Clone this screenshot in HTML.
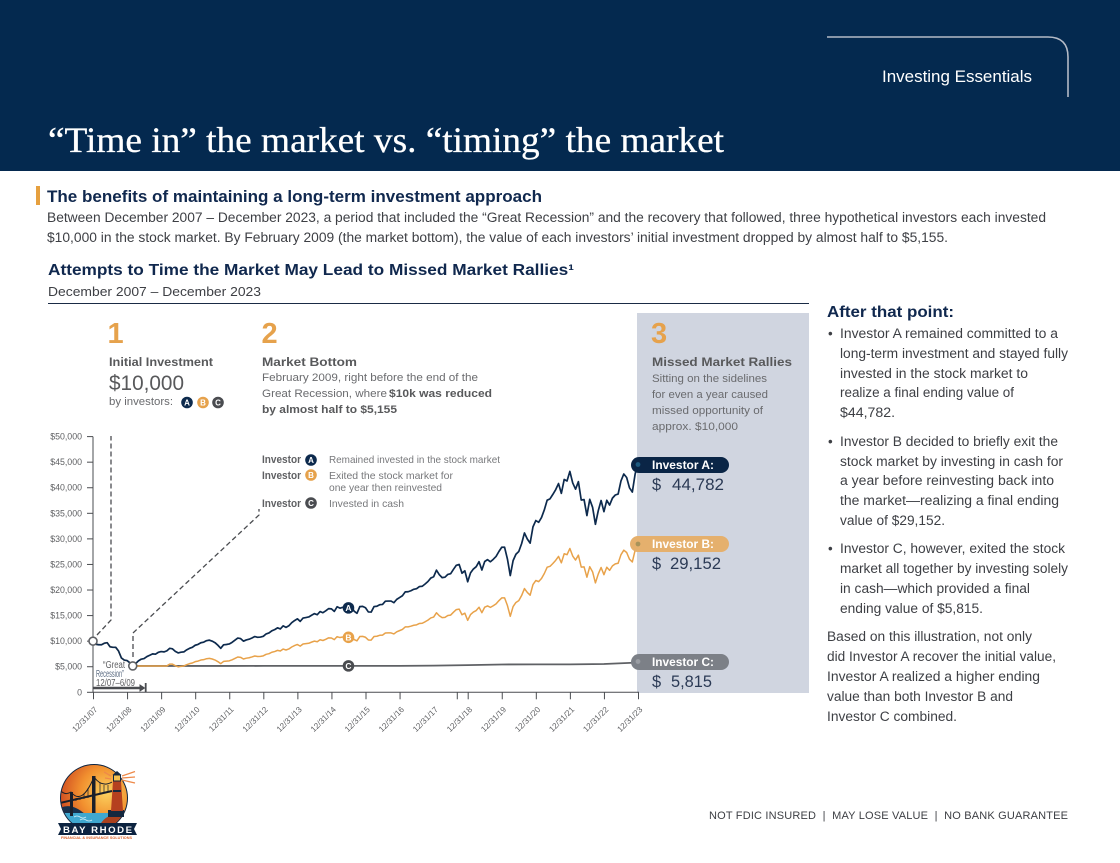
<!DOCTYPE html>
<html lang="en">
<head>
<meta charset="utf-8">
<title>"Time in" the market vs. "timing" the market</title>
<style>
html,body{margin:0;padding:0;background:#fff;}
svg{display:block;}
text{font-family:"Liberation Sans",Arial,sans-serif;}
.serif{font-family:"Liberation Serif",serif;}
.b{font-weight:700;}
.body{font-size:13.4px;fill:#3d3f44;}
.small{font-size:11.4px;fill:#6a6b6e;}
.head{font-size:11.6px;font-weight:700;fill:#58595b;}
.num{font-size:29px;font-weight:700;fill:#e6a24c;}
.leg{font-size:10.4px;fill:#77787b;}
.legb{font-size:10.6px;font-weight:700;fill:#5f6063;}
.pill{font-size:11.6px;font-weight:700;fill:#fff;}
.val{font-size:16.4px;fill:#2b3a55;}
.tick{font-size:8.8px;fill:#5f6063;}
.xtick{font-size:8.2px;fill:#5f6063;}
</style>
</head>
<body>
<svg id="page" xmlns="http://www.w3.org/2000/svg" width="1120" height="863" viewBox="0 0 1120 863">
  <rect x="0" y="0" width="1120" height="863" fill="#ffffff"/>

  <!-- Header -->
  <rect x="0" y="0" width="1120" height="171" fill="#04294f"/>
  <path d="M827 37H1048Q1068 37 1068 57V97" fill="none" stroke="#b4bac6" stroke-width="1.6"/>
  <text x="882" y="82" font-size="17" fill="#fff" textLength="150" lengthAdjust="spacingAndGlyphs">Investing Essentials</text>
  <text class="serif" x="48" y="152" font-size="35.5" fill="#fff" stroke="#fff" stroke-width="0.3" textLength="676" lengthAdjust="spacingAndGlyphs">“Time in” the market vs. “timing” the market</text>

  <!-- Intro -->
  <rect x="36" y="186" width="4" height="19" fill="#e6a03f"/>
  <text class="b" x="47" y="202" font-size="16.6" fill="#10284e" textLength="495" lengthAdjust="spacingAndGlyphs">The benefits of maintaining a long-term investment approach</text>
  <text class="body" x="47" y="222" textLength="999" lengthAdjust="spacingAndGlyphs">Between December 2007 – December 2023, a period that included the “Great Recession” and the recovery that followed, three hypothetical investors each invested</text>
  <text class="body" x="47" y="242" textLength="901" lengthAdjust="spacingAndGlyphs">$10,000 in the stock market. By February 2009 (the market bottom), the value of each investors’ initial investment dropped by almost half to $5,155.</text>

  <text class="b" x="48" y="275" font-size="15.4" fill="#10284e" textLength="526" lengthAdjust="spacingAndGlyphs">Attempts to Time the Market May Lead to Missed Market Rallies¹</text>
  <text x="48" y="296" font-size="13" fill="#3d3f44" textLength="213" lengthAdjust="spacingAndGlyphs">December 2007 – December 2023</text>
  <line x1="48" x2="809" y1="303.5" y2="303.5" stroke="#1a2b45" stroke-width="1"/>

  <!-- Missed rallies panel -->
  <rect x="637" y="313" width="172" height="380" fill="#d0d5e0"/>

  <!-- Callout 1 -->
  <text class="num" x="107.5" y="343">1</text>
  <text class="head" x="109" y="366" textLength="104" lengthAdjust="spacingAndGlyphs">Initial Investment</text>
  <text x="109" y="390" font-size="21" fill="#58595b" textLength="75" lengthAdjust="spacingAndGlyphs">$10,000</text>
  <text class="small" x="109" y="405" textLength="64" lengthAdjust="spacingAndGlyphs">by investors:</text>
  <g font-size="8" font-weight="700" text-anchor="middle" fill="#fff">
    <circle cx="187" cy="402.5" r="5.8" fill="#0d2a4d"/>
    <text x="187" y="405.5">A</text>
    <circle cx="203" cy="402.5" r="5.8" fill="#e6a24c"/>
    <text x="203" y="405.5">B</text>
    <circle cx="218" cy="402.5" r="5.8" fill="#4a4c50"/>
    <text x="218" y="405.5">C</text>
  </g>

  <!-- Callout 2 -->
  <text class="num" x="261.5" y="343">2</text>
  <text class="head" x="262" y="366" textLength="95" lengthAdjust="spacingAndGlyphs">Market Bottom</text>
  <text class="small" x="262" y="381" textLength="216" lengthAdjust="spacingAndGlyphs">February 2009, right before the end of the</text>
  <text class="small" x="262" y="397" textLength="125" lengthAdjust="spacingAndGlyphs">Great Recession, where</text>
  <text class="small b" style="fill:#58595b" x="389" y="397" textLength="103" lengthAdjust="spacingAndGlyphs">$10k was reduced</text>
  <text class="small b" style="fill:#58595b" x="262" y="413" textLength="135" lengthAdjust="spacingAndGlyphs">by almost half to $5,155</text>

  <!-- Callout 3 -->
  <text class="num" x="651" y="343">3</text>
  <text class="head" x="652" y="366" textLength="140" lengthAdjust="spacingAndGlyphs">Missed Market Rallies</text>
  <text class="small" x="652" y="382" textLength="115" lengthAdjust="spacingAndGlyphs">Sitting on the sidelines</text>
  <text class="small" x="652" y="398" textLength="116" lengthAdjust="spacingAndGlyphs">for even a year caused</text>
  <text class="small" x="652" y="414" textLength="111" lengthAdjust="spacingAndGlyphs">missed opportunity of</text>
  <text class="small" x="652" y="430" textLength="86" lengthAdjust="spacingAndGlyphs">approx. $10,000</text>

  <!-- Chart legend -->
  <g>
    <text class="legb" x="262" y="463" textLength="39" lengthAdjust="spacingAndGlyphs">Investor</text>
    <circle cx="311" cy="460" r="5.8" fill="#0d2a4d"/>
    <text x="311" y="463" font-size="8" font-weight="700" fill="#fff" text-anchor="middle">A</text>
    <text class="leg" x="329" y="463" textLength="171" lengthAdjust="spacingAndGlyphs">Remained invested in the stock market</text>
    <text class="legb" x="262" y="479" textLength="39" lengthAdjust="spacingAndGlyphs">Investor</text>
    <circle cx="311" cy="475" r="5.8" fill="#e6a24c"/>
    <text x="311" y="478" font-size="8" font-weight="700" fill="#fff" text-anchor="middle">B</text>
    <text class="leg" x="329" y="479" textLength="124" lengthAdjust="spacingAndGlyphs">Exited the stock market for</text>
    <text class="leg" x="329" y="491" textLength="113" lengthAdjust="spacingAndGlyphs">one year then reinvested</text>
    <text class="legb" x="262" y="507" textLength="39" lengthAdjust="spacingAndGlyphs">Investor</text>
    <circle cx="311" cy="503" r="5.8" fill="#4a4c50"/>
    <text x="311" y="506" font-size="8" font-weight="700" fill="#fff" text-anchor="middle">C</text>
    <text class="leg" x="329" y="507" textLength="75" lengthAdjust="spacingAndGlyphs">Invested in cash</text>
  </g>

  <!-- Leader lines -->
  <path d="M97 635L111 620V436" fill="none" stroke="#4a4c50" stroke-width="1.3" stroke-dasharray="5 3"/>
  <path d="M133 657V633L259 515V509" fill="none" stroke="#4a4c50" stroke-width="1.3" stroke-dasharray="5 3"/>

  <!-- Chart layers filled by script -->
  <g id="axes"></g>
  <g id="series"></g>

  <!-- Recession annotation -->
  <g>
    <text x="103" y="668" font-size="10" fill="#5f6063" textLength="22" lengthAdjust="spacingAndGlyphs">“Great</text>
    <text x="96" y="677" font-size="10" fill="#5a6a80" textLength="28" lengthAdjust="spacingAndGlyphs">Recession”</text>
    <text x="96" y="686" font-size="10" fill="#5f6063" textLength="39" lengthAdjust="spacingAndGlyphs">12/07–6/09</text>
    <line x1="93" x2="142" y1="688" y2="688" stroke="#4a4c50" stroke-width="2.4"/>
    <path d="M140 685L144.5 688L140 691Z" fill="#4a4c50" stroke="#4a4c50"/>
    <line x1="145.7" x2="145.7" y1="683" y2="692" stroke="#4a4c50" stroke-width="1.8"/>
  </g>

  <!-- Ending value labels -->
  <g>
    <rect x="631" y="457" width="98" height="16" rx="8" fill="#0a2546"/>
    <circle cx="638" cy="464.5" r="2.4" fill="#1d5a80"/>
    <text class="pill" x="652" y="469" textLength="62" lengthAdjust="spacingAndGlyphs">Investor A:</text>
    <text class="val" x="652" y="490">$</text>
    <text class="val" x="672" y="490" textLength="52" lengthAdjust="spacingAndGlyphs">44,782</text>

    <rect x="630" y="536" width="99" height="16" rx="8" fill="#e5b06d"/>
    <circle cx="638" cy="544" r="2.4" fill="#a8935a"/>
    <text class="pill" x="652" y="548" textLength="62" lengthAdjust="spacingAndGlyphs">Investor B:</text>
    <text class="val" x="652" y="569">$</text>
    <text class="val" x="670" y="569" textLength="51" lengthAdjust="spacingAndGlyphs">29,152</text>

    <rect x="631" y="654" width="98" height="16" rx="8" fill="#7c8087"/>
    <circle cx="638" cy="661.5" r="2.4" fill="#9a9da3"/>
    <text class="pill" x="652" y="666" textLength="62" lengthAdjust="spacingAndGlyphs">Investor C:</text>
    <text class="val" x="652" y="687">$</text>
    <text class="val" x="671" y="687" textLength="41" lengthAdjust="spacingAndGlyphs">5,815</text>
  </g>

  <!-- Right column -->
  <g>
    <text class="b" x="827" y="317" font-size="16" fill="#10284e" textLength="127" lengthAdjust="spacingAndGlyphs">After that point:</text>
    <text class="body" x="828" y="338">•</text>
    <text class="body" x="840" y="338" textLength="218" lengthAdjust="spacingAndGlyphs">Investor A remained committed to a</text>
    <text class="body" x="840" y="358" textLength="228" lengthAdjust="spacingAndGlyphs">long-term investment and stayed fully</text>
    <text class="body" x="840" y="378" textLength="188" lengthAdjust="spacingAndGlyphs">invested in the stock market to</text>
    <text class="body" x="840" y="397" textLength="174" lengthAdjust="spacingAndGlyphs">realize a final ending value of</text>
    <text class="body" x="840" y="417" textLength="55" lengthAdjust="spacingAndGlyphs">$44,782.</text>
    <text class="body" x="828" y="446">•</text>
    <text class="body" x="840" y="446" textLength="218" lengthAdjust="spacingAndGlyphs">Investor B decided to briefly exit the</text>
    <text class="body" x="840" y="466" textLength="223" lengthAdjust="spacingAndGlyphs">stock market by investing in cash for</text>
    <text class="body" x="840" y="485" textLength="214" lengthAdjust="spacingAndGlyphs">a year before reinvesting back into</text>
    <text class="body" x="840" y="505" textLength="219" lengthAdjust="spacingAndGlyphs">the market—realizing a final ending</text>
    <text class="body" x="840" y="525" textLength="105" lengthAdjust="spacingAndGlyphs">value of $29,152.</text>
    <text class="body" x="828" y="553">•</text>
    <text class="body" x="840" y="553" textLength="225" lengthAdjust="spacingAndGlyphs">Investor C, however, exited the stock</text>
    <text class="body" x="840" y="573" textLength="228" lengthAdjust="spacingAndGlyphs">market all together by investing solely</text>
    <text class="body" x="840" y="593" textLength="190" lengthAdjust="spacingAndGlyphs">in cash—which provided a final</text>
    <text class="body" x="840" y="613" textLength="143" lengthAdjust="spacingAndGlyphs">ending value of $5,815.</text>
    <text class="body" x="827" y="641" textLength="205" lengthAdjust="spacingAndGlyphs">Based on this illustration, not only</text>
    <text class="body" x="827" y="661" textLength="229" lengthAdjust="spacingAndGlyphs">did Investor A recover the initial value,</text>
    <text class="body" x="827" y="681" textLength="213" lengthAdjust="spacingAndGlyphs">Investor A realized a higher ending</text>
    <text class="body" x="827" y="701" textLength="186" lengthAdjust="spacingAndGlyphs">value than both Investor B and</text>
    <text class="body" x="827" y="721" textLength="130" lengthAdjust="spacingAndGlyphs">Investor C combined.</text>
  </g>

  <!-- Footer -->
  <text x="709" y="819" font-size="11" fill="#3d3f44" textLength="359" lengthAdjust="spacing" xml:space="preserve">NOT FDIC INSURED  |  MAY LOSE VALUE  |  NO BANK GUARANTEE</text>

  <!-- Logo -->
  <g>
    <defs>
      <radialGradient id="sky" cx="0.68" cy="0.42" r="0.75">
        <stop offset="0" stop-color="#fbd25f"/>
        <stop offset="0.5" stop-color="#f2912f"/>
        <stop offset="1" stop-color="#c9401f"/>
      </radialGradient>
      <clipPath id="logoClip"><circle cx="94" cy="798" r="33"/></clipPath>
    </defs>
    <circle cx="94" cy="798" r="34" fill="#0c2340"/>
    <g clip-path="url(#logoClip)">
      <rect x="60" y="764" width="68" height="68" fill="url(#sky)"/>
      <path d="M60 808Q72 802 86 815V832H60Z" fill="#17304d"/>
      <rect x="62" y="813" width="46" height="12" fill="#3fa7cf"/>
      <path d="M74 817q3-2 6 0t6 0M80 820q3-2 6 0t6 0" stroke="#d6f0f8" stroke-width="0.8" fill="none"/>
      <path d="M60 803L112 791" stroke="#1a1f2a" stroke-width="2" fill="none"/>
      <rect x="70" y="792" width="3" height="24" fill="#1a1f2a"/>
      <rect x="92" y="776" width="3.5" height="37" fill="#1a1f2a"/>
      <path d="M60 790Q65 796 71 792Q82 806 94 777Q102 788 112 782" stroke="#1a1f2a" stroke-width="1" fill="none"/>
      <path d="M76 798V801M80 798V800M84 794V799M88 788V798M100 783V794M104 785V793M108 785V792" stroke="#1a1f2a" stroke-width="0.7"/>
      <path d="M100 825Q106 812 128 814V832H100Z" fill="#a9401d"/>
    </g>
    <path d="M108 817V810H124V817Z" fill="#14283f"/>
    <path d="M113 781H121L123 811H111Z" fill="#b5401f"/>
    <rect x="113" y="790" width="8" height="2" fill="#14283f"/>
    <rect x="113.5" y="775" width="7" height="6" fill="#f5c04e" stroke="#14283f" stroke-width="1"/>
    <path d="M112.5 775L117 771L121.5 775Z" fill="#14283f"/>
    <path d="M122 776L135 771.5M122 778L135 777M122 780L135 783M111 776L104 772M111 779L105 778" stroke="#ee8a4a" stroke-width="1.3" fill="none"/>
    <path d="M58 823H137L134 829L137 835H58L61 829Z" fill="#0c2340"/>
    <text class="b" x="63" y="833" font-size="9.6" fill="#fff" textLength="69" lengthAdjust="spacing">BAY RHODE</text>
    <text class="b" x="61" y="839" font-size="4" fill="#d9622b" textLength="71" lengthAdjust="spacingAndGlyphs">FINANCIAL &amp; INSURANCE SOLUTIONS</text>
  </g>
</svg>

<script>
const investorAValues = [
10.0,9.4,9.3,9.3,9.6,9.7,8.9,8.8,8.8,8.07,6.71,6.3,6.2,
5.77,5.155,5.6,6.14,6.48,6.6,6.99,7.24,7.51,7.45,7.81,7.96,
7.9,8.1,8.6,8.5,8.0,7.7,7.85,7.9,8.3,8.6,8.8,9.2,
9.37,9.69,9.8,10.1,10.2,10.0,9.7,9.2,8.6,9.28,9.35,9.45,
9.77,10.19,10.6,10.5,10.0,10.24,10.38,10.62,10.9,10.75,10.8,10.95,
11.42,11.6,12.02,12.25,12.6,12.4,13.0,12.7,13.01,13.61,14.02,14.37,
13.87,14.51,14.62,14.73,15.07,15.38,15.17,15.78,15.56,15.93,16.36,16.31,
15.82,16.72,16.45,16.62,16.83,16.51,16.86,15.85,15.45,16.75,16.8,16.53,
15.71,15.69,16.76,16.83,17.13,17.18,17.82,17.84,17.84,17.52,18.17,18.53,
18.88,19.64,19.66,19.86,20.14,20.26,20.68,20.74,21.18,21.67,22.34,22.59,
23.88,23.0,22.42,22.51,23.05,23.19,24.05,24.84,24.99,23.29,23.76,21.62,
23.35,24.1,24.56,25.54,23.91,25.58,25.94,25.52,26.0,26.57,27.53,28.36,
28.36,26.06,22.83,25.75,26.99,27.53,29.07,31.16,29.98,29.17,32.35,33.58,
33.24,34.17,35.68,37.57,37.83,38.7,39.63,40.82,38.9,41.62,41.33,43.19,
40.94,39.72,41.19,37.6,37.68,34.56,37.73,36.18,32.85,35.51,37.5,35.33,
37.55,36.62,37.97,38.58,38.77,41.33,42.69,42.0,39.99,39.15,42.71,44.78
];
const investorBValues = [
10.0,9.4,9.3,9.3,9.6,9.7,8.9,8.8,8.8,8.07,6.71,6.3,6.2,
5.77,5.155,5.155,5.155,5.155,5.155,5.155,5.155,5.155,5.155,5.155,5.155,
5.155,5.155,5.5,5.5,5.2,4.98,5.08,5.15,5.4,5.6,5.73,5.99,
6.1,6.31,6.38,6.57,6.64,6.51,6.31,5.99,5.6,6.04,6.09,6.15,
6.36,6.63,6.9,6.84,6.51,6.67,6.76,6.91,7.1,7.0,7.03,7.13,
7.43,7.55,7.83,7.97,8.2,8.07,8.46,8.27,8.47,8.86,9.13,9.35,
9.03,9.45,9.52,9.59,9.81,10.01,9.88,10.27,10.13,10.37,10.65,10.62,
10.3,10.88,10.71,10.82,10.96,10.75,10.98,10.32,10.06,10.9,10.94,10.76,
10.23,10.21,10.91,10.96,11.15,11.18,11.6,11.61,11.61,11.41,11.83,12.06,
12.29,12.79,12.8,12.93,13.11,13.19,13.46,13.5,13.79,14.11,14.54,14.71,
15.55,14.97,14.6,14.65,15.01,15.1,15.66,16.17,16.27,15.16,15.47,14.07,
15.2,15.69,15.99,16.63,15.57,16.65,16.89,16.61,16.93,17.3,17.92,18.46,
18.46,16.97,14.86,16.76,17.57,17.92,18.92,20.29,19.52,18.99,21.06,21.86,
21.64,22.25,23.23,24.46,24.63,25.19,25.8,26.57,25.32,27.09,26.91,28.12,
26.65,25.86,26.82,24.48,24.53,22.5,24.56,23.55,21.39,23.12,24.41,23.0,
24.45,23.84,24.72,25.12,25.24,26.91,27.79,27.34,26.03,25.49,27.8,29.15
];
// Investor C: sampled at these month numbers (month 14 is February 2009), thousands of dollars.
const investorCMonths = [14,24,36,48,60,72,84,96,108,120,132,144,156,168,180,192];
const investorCValues = [5.155,5.156,5.157,5.158,5.16,5.16,5.16,5.165,5.17,5.22,5.32,5.44,5.46,5.46,5.53,5.815];

const yTickValues = [0,5000,10000,15000,20000,25000,30000,35000,40000,45000,50000];
const yTickLabels = ['0','$5,000','$10,000','$15,000','$20,000','$25,000','$30,000','$35,000','$40,000','$45,000','$50,000'];
const xTickLabels = ['12/31/07','12/31/08','12/31/09','12/31/10','12/31/11','12/31/12','12/31/13','12/31/14','12/31/15','12/31/16','12/31/17','12/31/18','12/31/19','12/31/20','12/31/21','12/31/22','12/31/23'];
// Tick marks as drawn in the source, in years since 12/31/07 (the 2017 tick sits off-grid there).
const xTickMarkYears = [0,1,2,3,4,5,6,7,8,9,10.68,11,12,13,14,15,16];
const markerMonth = 90;
const markerLetters = ['A','B','C'];

const NS = 'http://www.w3.org/2000/svg';
function xScale(month){ return 93 + month * (545 / 192); }
function yScale(thousands){ return 692.3 - thousands * 5.114; }
function make(tag, parent, props, text){
  const node = document.createElementNS(NS, tag);
  Object.keys(props).forEach(function(k){ node.setAttribute(k, props[k]); });
  if (text !== undefined) node.textContent = text;
  parent.appendChild(node);
  return node;
}
function pathFrom(months, values){
  return values.map(function(v, i){
    return (i ? 'L' : 'M') + xScale(months ? months[i] : i).toFixed(2) + ' ' + yScale(v).toFixed(2);
  }).join('');
}

const axes = document.getElementById('axes');
const series = document.getElementById('series');

const yAxis = make('line', axes, {x1:93, x2:93, y1:yScale(50), y2:yScale(0), stroke:'#4a4c50', 'stroke-width':1});


const xAxis = make('line', axes, {x1:93, x2:xScale(192)+1, y1:yScale(0), y2:yScale(0), stroke:'#4a4c50', 'stroke-width':1});



yTickValues.forEach(function(v, i){
  const y = yScale(v / 1000);
  const tick = make('line', axes, {x1:87, x2:93, y1:y, y2:y, stroke:'#4a4c50', 'stroke-width':1});
  
  
  const label = make('text', axes, {x:82, y:y+3, 'text-anchor':'end', 'class':'tick'}, yTickLabels[i]);
  
  
});

xTickMarkYears.forEach(function(yr){
  const x = xScale(yr * 12) + 0.5;
  const tick = make('line', axes, {x1:x, x2:x, y1:yScale(0), y2:yScale(0)+7, stroke:'#4a4c50', 'stroke-width':1});
  
  
});
xTickLabels.forEach(function(t, i){
  const x = xScale(i * 12) + 5;
  const label = make('text', axes, {x:x, y:710, 'text-anchor':'end', 'class':'xtick', transform:'rotate(-45 ' + x + ' 710)'}, t);
  
  
});

const lineC = make('path', series, {d:pathFrom(investorCMonths, investorCValues), fill:'none', stroke:'#5f6165', 'stroke-width':1.8});


const lineB = make('path', series, {d:pathFrom(null, investorBValues), fill:'none', stroke:'#e8a24a', 'stroke-width':1.5, 'stroke-linejoin':'round'});


const lineA = make('path', series, {d:pathFrom(null, investorAValues), fill:'none', stroke:'#0d2a4d', 'stroke-width':1.7, 'stroke-linejoin':'round'});



const startDot = make('circle', series, {cx:xScale(0), cy:yScale(investorAValues[0]), r:4, fill:'#fff', stroke:'#5f6165', 'stroke-width':1.6});


const bottomDot = make('circle', series, {cx:xScale(14), cy:yScale(investorAValues[14]), r:4, fill:'#fff', stroke:'#5f6165', 'stroke-width':1.6});



const markerValues = [investorAValues[markerMonth], investorBValues[markerMonth], investorCValues[7]];
const markerColors = ['#0d2a4d', '#e8a24a', '#4a4c50'];
markerLetters.forEach(function(letter, i){
  const cy = yScale(markerValues[i]);
  const badge = make('circle', series, {cx:xScale(markerMonth), cy:cy, r:5.8, fill:markerColors[i]});
  
  
  const mark = make('text', series, {x:xScale(markerMonth), y:cy+3, 'text-anchor':'middle', 'font-size':8.5, 'font-weight':700, fill:'#fff'}, letter);
  
  
});
</script>
</body>
</html>
